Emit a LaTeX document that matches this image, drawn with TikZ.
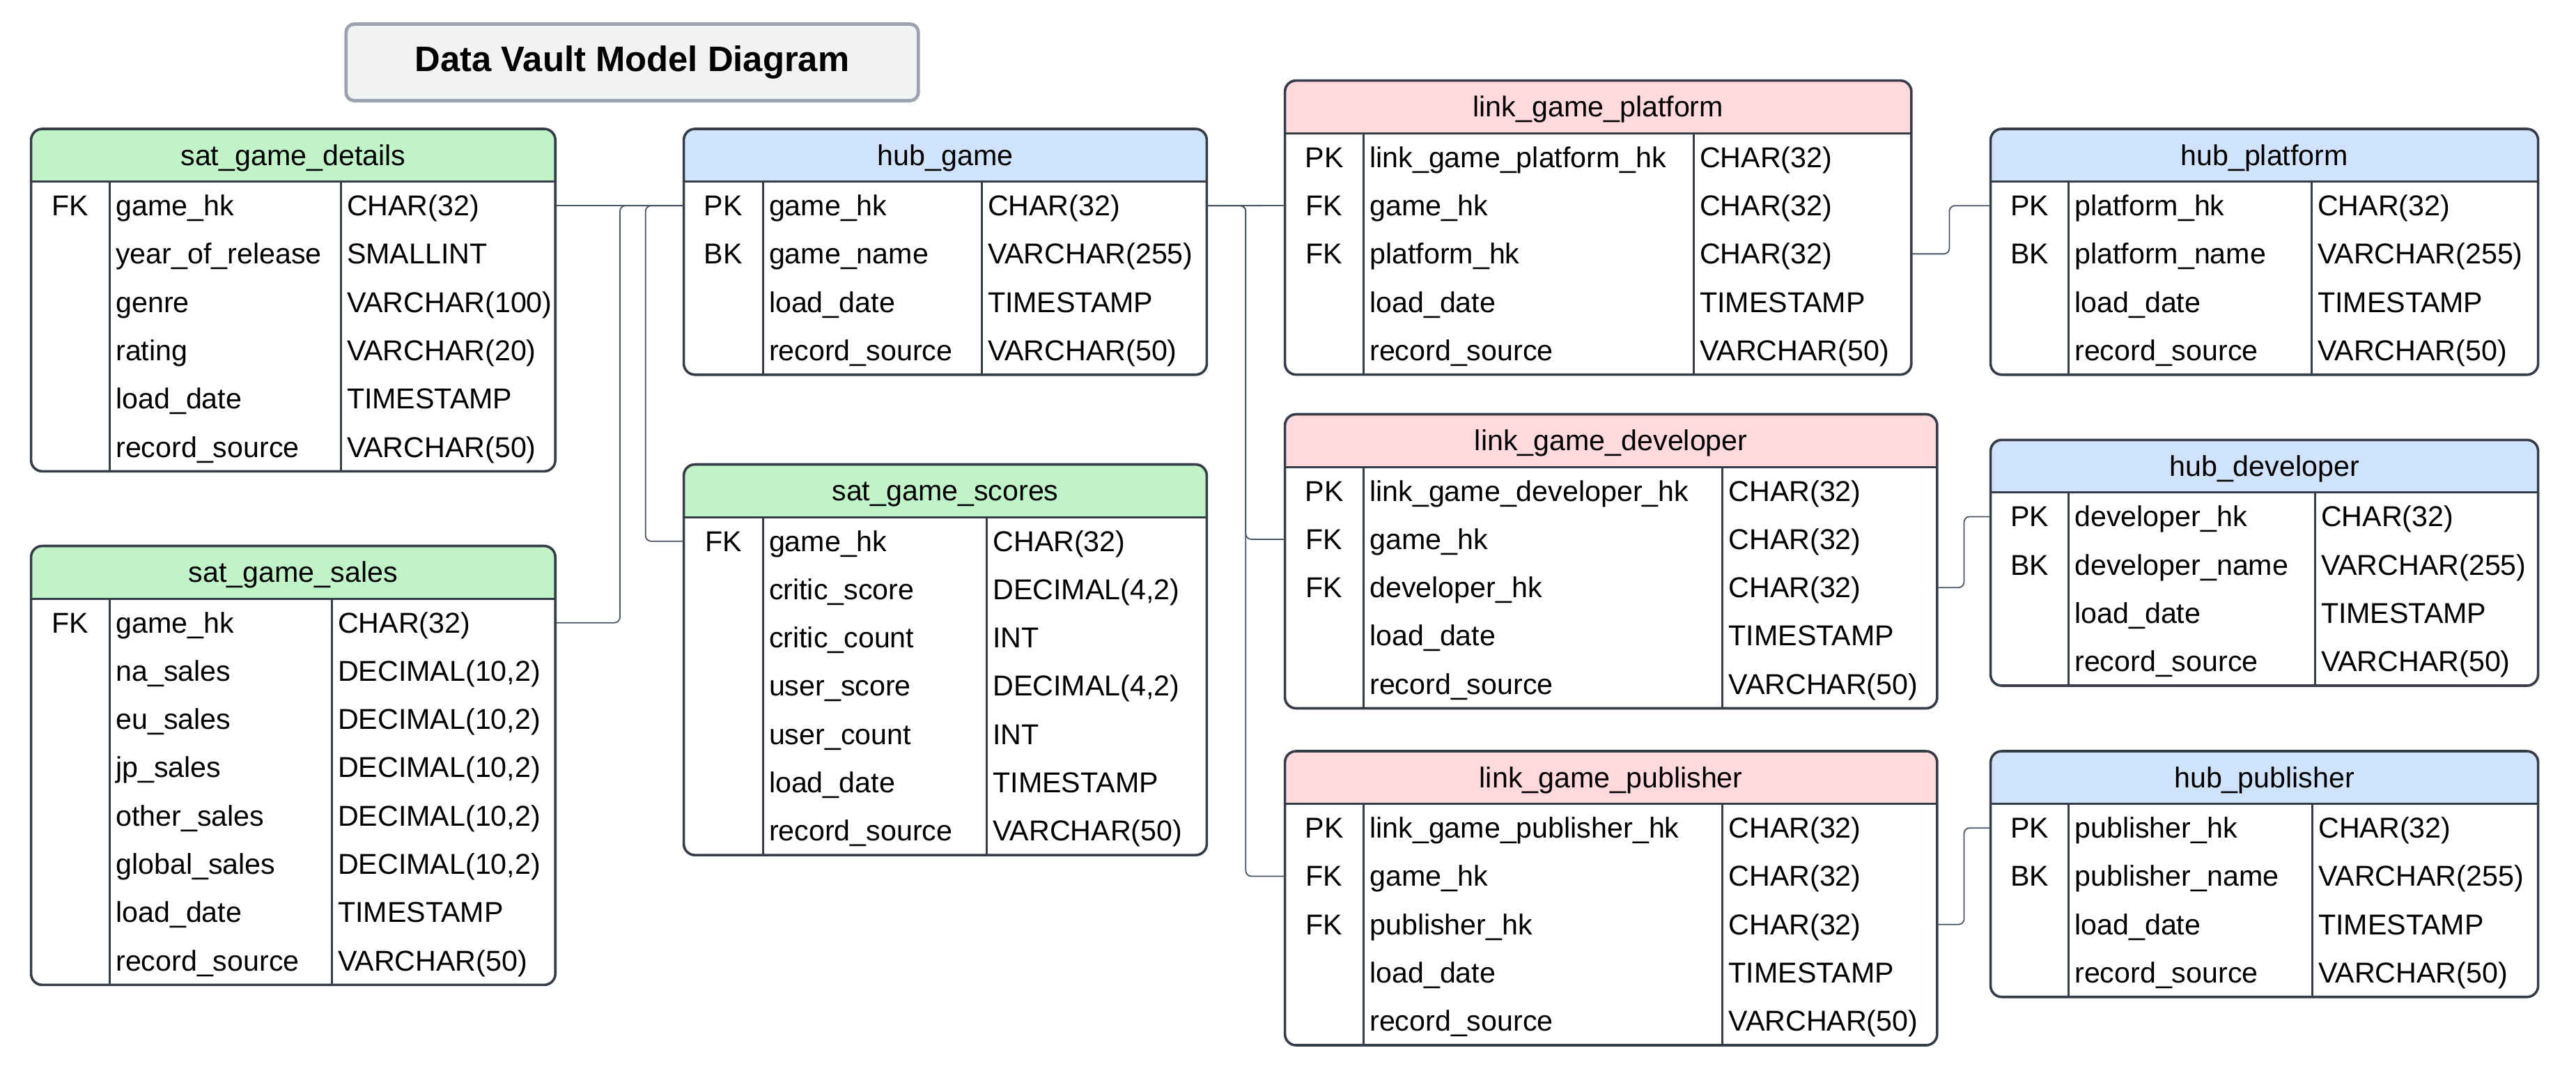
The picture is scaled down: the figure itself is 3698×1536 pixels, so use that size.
\documentclass[tikz,border=0pt]{standalone}
\usepackage{fontspec}
\setmainfont{Liberation Sans}

\definecolor{hubblue}{HTML}{D0E3FD}
\definecolor{satgreen}{HTML}{C1F3C8}
\definecolor{linkpink}{HTML}{FFD9DB}
\definecolor{edgegray}{HTML}{363C48}
\definecolor{wiregray}{HTML}{4B5563}
\definecolor{titlefill}{HTML}{F1F2F4}
\definecolor{titledraw}{HTML}{9CA3AF}

\newcommand{\dvhead}{75.5}
\newcommand{\dvrow}{69.3}
\newcommand{\nokey}{}
% #1 name, #2 left, #3 top, #4 right, #5 first divider, #6 second divider, #7 colour, #8 title, #9 rows
\newcommand{\dvtable}[9]{%
  \foreach \dvk/\dvn/\dvt [count=\dvi] in {#9} {\xdef\dvrows{\dvi}}
  \pgfmathsetmacro\dvB{#3+\dvhead+\dvrows*\dvrow}
  \pgfmathsetmacro\dvH{#3+\dvhead}
  \begin{scope}
    \clip[rounded corners=4pt] (#2,#3) rectangle (#4,\dvB);
    \fill[white] (#2,#3) rectangle (#4,\dvB);
    \fill[#7] (#2,#3) rectangle (#4,\dvH);
  \end{scope}
  \node[cell, anchor=center] (#1) at ({(#2+#4)/2},{#3+\dvhead/2}) {#8};
  \draw[divider] (#2,\dvH) -- (#4,\dvH);
  \draw[divider] (#5,\dvH) -- (#5,\dvB);
  \draw[divider] (#6,\dvH) -- (#6,\dvB);
  \draw[tableline] (#2,#3) rectangle (#4,\dvB);
  \foreach \dvk/\dvn/\dvt [count=\dvi] in {#9} {
    \pgfmathsetmacro\dvy{\dvH+(\dvi-0.5)*\dvrow}
    \node[rowbox, minimum width={(#4-#2)*0.25pt}] (#1-\dvi) at ({(#2+#4)/2},\dvy) {};
    \node[cell, anchor=center] (#1-\dvi-k) at ({(#2+#5)/2},\dvy) {\dvk};
    \node[cell] (#1-\dvi-n) at (#5+8,\dvy) {\dvn};
    \node[cell] (#1-\dvi-t) at (#6+8,\dvy) {\dvt};
  }
}

\begin{document}
\begin{tikzpicture}[x=0.25pt,y=-0.25pt,
    cell/.style={inner sep=0pt, anchor=west, text=black, font=\fontsize{10.3}{12}\selectfont, text height=0.72em, text depth=0em},
    rowbox/.style={rectangle, inner sep=0pt, minimum height=\dvrow*0.25pt},
    tableline/.style={draw=edgegray, line width=0.9pt, rounded corners=4pt},
    divider/.style={draw=edgegray, line width=0.75pt},
    link/.style={draw=wiregray, line width=0.45pt, rounded corners=2pt},
    titlebox/.style={rectangle, rounded corners=3pt, fill=titlefill, draw=titledraw, line width=1.2pt, minimum width=205.4pt, minimum height=27.5pt, font=\bfseries\fontsize{12.7}{15}\selectfont}]
  \useasboundingbox (0,0) rectangle (3698,1536);
  \fill[white] (0,0) rectangle (3698,1536);

  \node[titlebox] (title) at (907.5,89.5) {Data Vault Model Diagram};

  % satellites and hub of the game
  \dvtable{satdet}{44.6}{185}{797.2}{157.5}{489.2}{satgreen}{sat\_game\_details}{FK/game\_hk/CHAR(32), \nokey/year\_of\_release/SMALLINT, \nokey/genre/VARCHAR(100), \nokey/rating/VARCHAR(20), \nokey/load\_date/TIMESTAMP, \nokey/record\_source/VARCHAR(50)}
  \dvtable{satsales}{44.6}{783.5}{797.2}{157.5}{476.4}{satgreen}{sat\_game\_sales}{FK/game\_hk/CHAR(32), \nokey/na\_sales/{DECIMAL(10,2)}, \nokey/eu\_sales/{DECIMAL(10,2)}, \nokey/jp\_sales/{DECIMAL(10,2)}, \nokey/other\_sales/{DECIMAL(10,2)}, \nokey/global\_sales/{DECIMAL(10,2)}, \nokey/load\_date/TIMESTAMP, \nokey/record\_source/VARCHAR(50)}
  \dvtable{hubgame}{981.6}{185}{1732.4}{1095.2}{1409.2}{hubblue}{hub\_game}{PK/game\_hk/CHAR(32), BK/game\_name/VARCHAR(255), \nokey/load\_date/TIMESTAMP, \nokey/record\_source/VARCHAR(50)}
  \dvtable{satscores}{981.6}{666.5}{1732.4}{1095.2}{1416.7}{satgreen}{sat\_game\_scores}{FK/game\_hk/CHAR(32), \nokey/critic\_score/{DECIMAL(4,2)}, \nokey/critic\_count/INT, \nokey/user\_score/{DECIMAL(4,2)}, \nokey/user\_count/INT, \nokey/load\_date/TIMESTAMP, \nokey/record\_source/VARCHAR(50)}

  % links
  \dvtable{lplat}{1844.6}{115.6}{2743.9}{1957.5}{2431.4}{linkpink}{link\_game\_platform}{PK/link\_game\_platform\_hk/CHAR(32), FK/game\_hk/CHAR(32), FK/platform\_hk/CHAR(32), \nokey/load\_date/TIMESTAMP, \nokey/record\_source/VARCHAR(50)}
  \dvtable{ldev}{1844.6}{594.5}{2780.9}{1957.5}{2472.8}{linkpink}{link\_game\_developer}{PK/link\_game\_developer\_hk/CHAR(32), FK/game\_hk/CHAR(32), FK/developer\_hk/CHAR(32), \nokey/load\_date/TIMESTAMP, \nokey/record\_source/VARCHAR(50)}
  \dvtable{lpub}{1844.6}{1078}{2780.9}{1957.5}{2472.8}{linkpink}{link\_game\_publisher}{PK/link\_game\_publisher\_hk/CHAR(32), FK/game\_hk/CHAR(32), FK/publisher\_hk/CHAR(32), \nokey/load\_date/TIMESTAMP, \nokey/record\_source/VARCHAR(50)}

  % other hubs
  \dvtable{hubplat}{2857.6}{185}{3643.6}{2969.5}{3318.3}{hubblue}{hub\_platform}{PK/platform\_hk/CHAR(32), BK/platform\_name/VARCHAR(255), \nokey/load\_date/TIMESTAMP, \nokey/record\_source/VARCHAR(50)}
  \dvtable{hubdev}{2857.6}{631.3}{3643.6}{2969.5}{3323.2}{hubblue}{hub\_developer}{PK/developer\_hk/CHAR(32), BK/developer\_name/VARCHAR(255), \nokey/load\_date/TIMESTAMP, \nokey/record\_source/VARCHAR(50)}
  \dvtable{hubpub}{2857.6}{1078}{3643.6}{2969.5}{3319.5}{hubblue}{hub\_publisher}{PK/publisher\_hk/CHAR(32), BK/publisher\_name/VARCHAR(255), \nokey/load\_date/TIMESTAMP, \nokey/record\_source/VARCHAR(50)}

  % bends of the connectors
  \coordinate (jsales) at (890,0);
  \coordinate (jscores) at (926.7,0);
  \coordinate (jlinks) at (1788.3,0);
  \coordinate (jplat) at (2798.4,0);
  \coordinate (jdev) at (2819.5,0);
  \coordinate (jpub) at (2819.5,0);

  \draw[link] (satdet-1.east) -- (hubgame-1.west);
  \draw[link] (satsales-1.east) -| (jsales |- hubgame-1.west) -- (hubgame-1.west);
  \draw[link] (satscores-1.west) -| (jscores |- hubgame-1.west) -- (hubgame-1.west);
  \draw[link] (hubgame-1.east) -- (lplat-2.west);
  \draw[link] (hubgame-1.east) -| (jlinks |- ldev-2.west) -- (ldev-2.west);
  \draw[link] (hubgame-1.east) -| (jlinks |- lpub-2.west) -- (lpub-2.west);
  \draw[link] (lplat-3.east) -| (jplat |- hubplat-1.west) -- (hubplat-1.west);
  \draw[link] (ldev-3.east) -| (jdev |- hubdev-1.west) -- (hubdev-1.west);
  \draw[link] (lpub-3.east) -| (jpub |- hubpub-1.west) -- (hubpub-1.west);
\end{tikzpicture}
\end{document}
